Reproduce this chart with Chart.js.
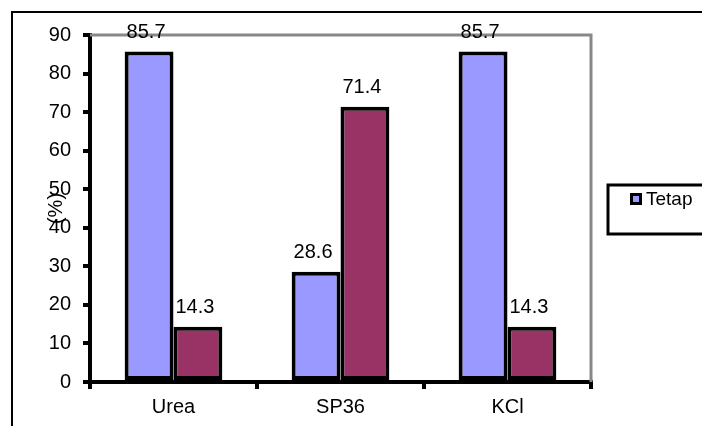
<!DOCTYPE html>
<html lang="id">
<head>
<meta charset="UTF-8">
<title>Tetap</title>
<script src="https://cdn.jsdelivr.net/npm/chart.js"></script>
<style>
  body { margin: 0; background: #fff; }
  #wrap { width: 702px; height: 426px; }
</style>
</head>
<body>
<div id="wrap"><canvas id="grafik" width="702" height="426"></canvas></div>
<script>
// data
const kategori = ['Urea', 'SP36', 'KCl'];
const tetap = [85.7, 28.6, 85.7];
const berubah = [14.3, 71.4, 14.3];
const labelSeri = ['Tetap', 'Berubah'];
const yMin = 0, yMax = 90, yStep = 10;

const FONT = '"Liberation Sans", Arial, sans-serif';
const UKURAN = 20;

// border luar, bingkai area plot, legenda
const hiasan = {
  id: 'hiasan',
  beforeDraw(chart) {
    const ctx = chart.ctx;
    ctx.save();
    ctx.fillStyle = '#fff';
    ctx.fillRect(0, 0, chart.width, chart.height);
    ctx.strokeStyle = '#000';
    ctx.lineWidth = 2;
    ctx.beginPath();
    ctx.moveTo(12, chart.height);
    ctx.lineTo(12, 12);
    ctx.lineTo(chart.width, 12);
    ctx.stroke();
    ctx.restore();
  },
  beforeDatasetsDraw(chart) {
    const { ctx, chartArea: a } = chart;
    ctx.save();
    ctx.strokeStyle = '#888';
    ctx.lineWidth = 3;
    ctx.beginPath();
    ctx.moveTo(a.left, a.top);
    ctx.lineTo(a.right, a.top);
    ctx.lineTo(a.right, a.bottom);
    ctx.stroke();
    ctx.restore();
  },
  afterDraw(chart) {
    const ctx = chart.ctx;
    const ds = chart.data.datasets[0];
    ctx.save();
    // kotak legenda (terpotong di kanan)
    ctx.strokeStyle = '#000';
    ctx.lineWidth = 3;
    ctx.strokeRect(608, 185, 120, 49);
    ctx.fillStyle = '#000';
    ctx.fillRect(630, 193, 12, 12);
    ctx.fillStyle = ds.backgroundColor;
    ctx.fillRect(633, 196, 6, 6);
    ctx.fillStyle = '#000';
    ctx.font = (UKURAN - 1) + 'px ' + FONT;
    ctx.textBaseline = 'middle';
    ctx.fillText(ds.label, 646, 200);
    ctx.restore();
  }
};

// label nilai di atas batang
const labelNilai = {
  id: 'labelNilai',
  afterDatasetsDraw(chart) {
    const ctx = chart.ctx;
    ctx.save();
    ctx.fillStyle = '#000';
    ctx.font = UKURAN + 'px ' + FONT;
    ctx.textAlign = 'center';
    ctx.textBaseline = 'alphabetic';
    chart.data.datasets.forEach((ds, i) => {
      chart.getDatasetMeta(i).data.forEach((bar, j) => {
        ctx.fillText(ds.data[j].toFixed(1), bar.x - 3, bar.y - 14);
      });
    });
    ctx.restore();
  }
};

new Chart(document.getElementById('grafik'), {
  type: 'bar',
  data: {
    labels: kategori,
    datasets: [
      {
        label: labelSeri[0],
        data: tetap,
        backgroundColor: '#9999FF',
        borderColor: '#000',
        borderWidth: 4,
        borderSkipped: false
      },
      {
        label: labelSeri[1],
        data: berubah,
        backgroundColor: '#993366',
        borderColor: '#000',
        borderWidth: 4,
        borderSkipped: false
      }
    ]
  },
  options: {
    responsive: false,
    animation: false,
    events: [],
    categoryPercentage: 0.585,
    barPercentage: 1.0,
    layout: { padding: { left: 12, top: 35, right: 111, bottom: 0 } },
    plugins: {
      legend: { display: false },
      tooltip: { enabled: false }
    },
    scales: {
      x: {
        afterFit(s) { s.height = 44; },
        grid: {
          display: true,
          offset: true,
          drawOnChartArea: false,
          drawTicks: true,
          tickLength: 7,
          color: '#000',
          lineWidth: 4
        },
        border: { display: true, color: '#000', width: 4 },
        ticks: {
          color: '#000',
          padding: 6,
          font: { family: FONT, size: UKURAN }
        }
      },
      y: {
        min: yMin,
        max: yMax,
        afterFit(s) { s.width = 78; },
        grid: {
          display: true,
          drawOnChartArea: false,
          drawTicks: true,
          tickLength: 7,
          color: '#000',
          lineWidth: 4
        },
        border: { display: true, color: '#000', width: 4 },
        ticks: {
          stepSize: yStep,
          color: '#000',
          padding: 12,
          font: { family: FONT, size: UKURAN }
        },
        title: {
          display: true,
          text: '(%)',
          color: '#000',
          padding: { top: 32, bottom: 0 },
          font: { family: FONT, size: UKURAN }
        }
      }
    }
  },
  plugins: [hiasan, labelNilai]
});
</script>
</body>
</html>
